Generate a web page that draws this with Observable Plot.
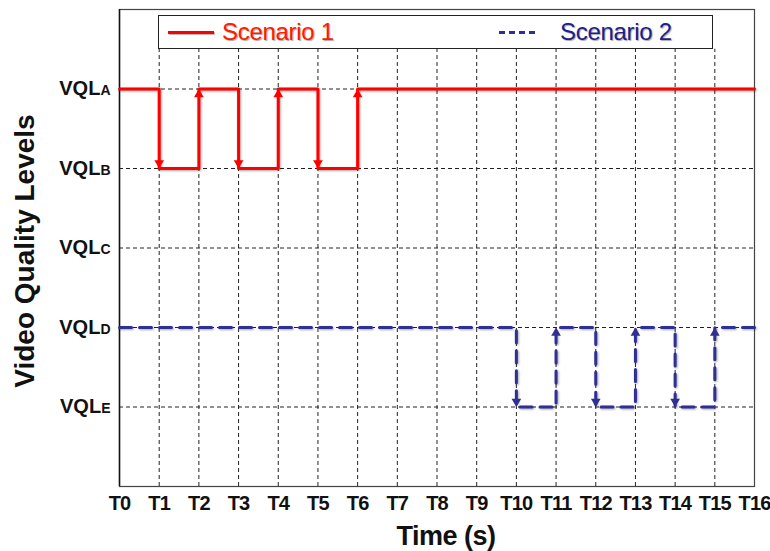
<!DOCTYPE html>
<html><head><meta charset="utf-8">
<script src="https://cdn.jsdelivr.net/npm/d3@7"></script>
<script src="https://cdn.jsdelivr.net/npm/@observablehq/plot@0.6"></script>
<style>
body{margin:0;background:#fff;}
#wrap{position:relative;width:770px;height:551px;font-family:"Liberation Sans",Arial,sans-serif;}
#legend{position:absolute;left:158px;top:15px;width:553px;height:32px;border:1px solid #222;background:#fff;}
#legend .sw{position:absolute;top:15px;height:0;}
#legend .lab{position:absolute;top:0px;font-size:24px;line-height:32px;letter-spacing:-0.3px;text-shadow:1px 1px 1px rgba(0,0,0,0.35);}
</style>
</head><body>
<div id="wrap">
<div id="chart"></div>
<div id="legend">
  <div class="sw" style="left:9px;width:46px;border-top:3px solid #ff0000;box-shadow:1px 1px 1px rgba(0,0,0,0.3);"></div>
  <div class="lab" style="left:63px;color:#ff1a00;">Scenario 1</div>
  <div class="sw" style="left:340px;width:36px;border-top:3px dashed #2e3192;"></div>
  <div class="lab" style="left:401px;color:#1f1f8a;">Scenario 2</div>
</div>
</div>
<script>
// Data
const timeTicks = [0,1,2,3,4,5,6,7,8,9,10,11,12,13,14,15,16];
const timeLabels = ["T0","T1","T2","T3","T4","T5","T6","T7","T8","T9","T10","T11","T12","T13","T14","T15","T16"];
const gridTimes = [1,2,3,4,5,6,7,8,9,10,11,12,13,14,15];
const levelValues = [1,2,3,4,5];
const levelLabels = ["VQLE","VQLD","VQLC","VQLB","VQLA"];
const s1Time  = [0,1,1,2,2,3,3,4,4,5,5,6,6,16];
const s1Level = [5,5,4,4,5,5,4,4,5,5,4,4,5,5];
const s2Time  = [0,10,10,11,11,12,12,13,13,14,14,15,15,16];
const s2Level = [2,2,1,1,2,2,1,1,2,2,1,1,2,2];

const s1 = s1Time.map((t,i)=>({t, v:s1Level[i]}));
const s2 = s2Time.map((t,i)=>({t, v:s2Level[i]}));
function heads(s, up){
  const out=[];
  for(let i=1;i<s.length;i++){
    if(s[i].t===s[i-1].t && s[i].v!==s[i-1].v){
      if((s[i].v>s[i-1].v)===up) out.push(s[i]);
    }
  }
  return out;
}
const RED="#ff0000", BLUE="#2e3192";
const fontFam = '"Liberation Sans",Arial,sans-serif';

const plot = Plot.plot({
  width:770, height:551,
  marginLeft:119, marginRight:16, marginTop:9, marginBottom:65,
  x:{domain:[0,16]},
  y:{domain:[0,6]},
  style:{fontFamily:fontFam, background:"#fff", overflow:"visible"},
  marks:[
    Plot.ruleY(levelValues,{stroke:"#222",strokeWidth:1,strokeDasharray:"4,3"}),
    Plot.ruleX(gridTimes,{y1:0,y2:5.5,stroke:"#222",strokeWidth:1,strokeDasharray:"4,3"}),
    Plot.frame({stroke:"#444",strokeWidth:1.2}),
    Plot.ruleX([0],{stroke:"#111",strokeWidth:1.5}),
    Plot.line(s2,{x:"t",y:"v",stroke:BLUE,strokeWidth:3,strokeDasharray:"12,8"}),
    Plot.line(s1,{x:"t",y:"v",stroke:RED,strokeWidth:3}),
    Plot.dot(heads(s1,true),{x:"t",y:"v",symbol:"triangle",r:3.6,fill:RED,stroke:null,dy:5.5}),
    Plot.dot(heads(s1,false),{x:"t",y:"v",symbol:"triangle",r:3.6,fill:RED,stroke:null,rotate:180,dy:-5.5}),
    Plot.dot(heads(s2,true),{x:"t",y:"v",symbol:"triangle",r:3.6,fill:BLUE,stroke:null,dy:5.5}),
    Plot.dot(heads(s2,false),{x:"t",y:"v",symbol:"triangle",r:3.6,fill:BLUE,stroke:null,rotate:180,dy:-5.5}),
    Plot.axisX(timeTicks,{tickSize:0,tickPadding:9,tickFormat:(d)=>timeLabels[timeTicks.indexOf(d)],label:null,fontSize:20,fontWeight:"bold",fill:"#111"}),
    Plot.axisY(levelValues,{tickSize:0,tickPadding:9,tickFormat:(d)=>levelLabels[levelValues.indexOf(d)],label:null,fontSize:20,fontWeight:"bold",fill:"#111"})
  ]
});
document.getElementById("chart").appendChild(plot);
const svg = d3.select(plot);
// smaller last letter for level labels
svg.selectAll('g[aria-label="y-axis tick label"] text').each(function(){
  const s = this.textContent;
  const el = d3.select(this);
  el.text(null);
  el.append("tspan").text(s.slice(0,3));
  el.append("tspan").attr("font-size",14).text(s.slice(3));
});
svg.selectAll('g[aria-label="x-axis tick label"] text').attr("letter-spacing","-0.8");
// shadows on lines
svg.selectAll('g[aria-label="line"]').style("filter","drop-shadow(1px 1px 1px rgba(0,0,0,0.35))");
// axis titles
svg.append("text").attr("x",446).attr("y",545).attr("text-anchor","middle")
  .attr("font-size",27).attr("font-weight","bold").attr("fill","#111")
  .attr("letter-spacing","-0.5")
  .attr("font-family",fontFam).text("Time (s)");
svg.append("text").attr("transform","translate(34,251) rotate(-90)").attr("text-anchor","middle")
  .attr("font-size",28).attr("font-weight","bold").attr("fill","#111")
  .attr("font-family",fontFam).text("Video Quality Levels");
</script>
</body></html>
